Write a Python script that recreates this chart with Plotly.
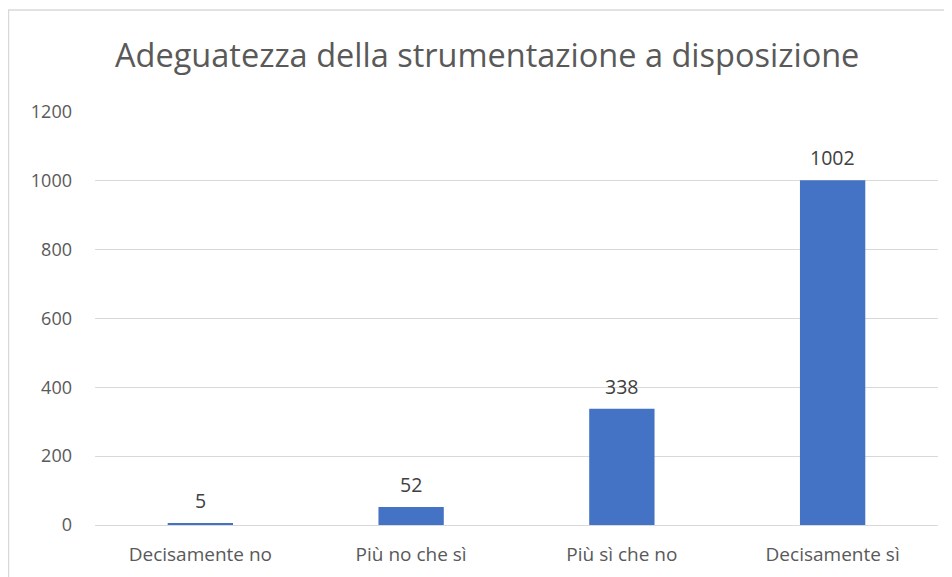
import plotly.graph_objects as go

categories = ["Decisamente no", "Più no che sì", "Più sì che no", "Decisamente sì"]
values = [5, 52, 338, 1002]
y_ticks = [0, 200, 400, 600, 800, 1000, 1200]

OFF = 8  # default page body margin
W, H = 952 - OFF, 577 - OFF
L, R, T, B = 95 - OFF, 952 - 938, 112 - OFF, 577 - 525
pw, ph = W - L - R, H - T - B

def px_x(x):
    return (x - OFF - L) / pw

def px_y(y):
    return (H - B - (y - OFF)) / ph

fig = go.Figure(go.Bar(
    x=categories, y=values,
    marker=dict(color="#4472C4", line=dict(width=0)),
    width=0.31,
))

label_annotations = [
    dict(x=c, y=v, xref="x", yref="y", text=str(v), showarrow=False,
         xanchor="center", yanchor="bottom", yshift=7,
         font=dict(family="Open Sans", size=19.5, color="#404040"))
    for c, v in zip(categories, values)
]

fig.update_layout(
    width=W, height=H,
    margin=dict(l=L, r=R, t=T, b=B),
    paper_bgcolor="white", plot_bgcolor="white",
    showlegend=False,
    font=dict(family="Open Sans", color="#595959"),
    xaxis=dict(showgrid=False, showline=True, linecolor="#d9d9d9", linewidth=1,
               automargin=False,
               tickfont=dict(size=19, color="#595959"), ticks="", ticklabelstandoff=12),
    yaxis=dict(range=[0, 1200], tickvals=y_ticks, showgrid=True, gridcolor="#d9d9d9",
               gridwidth=1, zeroline=False, showline=False, automargin=False,
               tickfont=dict(size=18, color="#595959"), ticks="", ticklabelstandoff=22),
    annotations=label_annotations + [dict(
        text="Adeguatezza della strumentazione a disposizione",
        xref="paper", yref="paper", x=px_x(487), y=px_y(55),
        xanchor="center", yanchor="middle", showarrow=False,
        font=dict(family="Open Sans", size=32.5, color="#595959"),
    )],
    shapes=[
        dict(type="line", xref="paper", yref="paper", x0=px_x(8), x1=px_x(952),
             y0=px_y(10), y1=px_y(10), line=dict(color="#d9d9d9", width=1.5)),
        dict(type="line", xref="paper", yref="paper", x0=px_x(8.5), x1=px_x(8.5),
             y0=px_y(10), y1=px_y(577), line=dict(color="#d9d9d9", width=1.5)),
    ],
)

fig.write_html("out.html")
